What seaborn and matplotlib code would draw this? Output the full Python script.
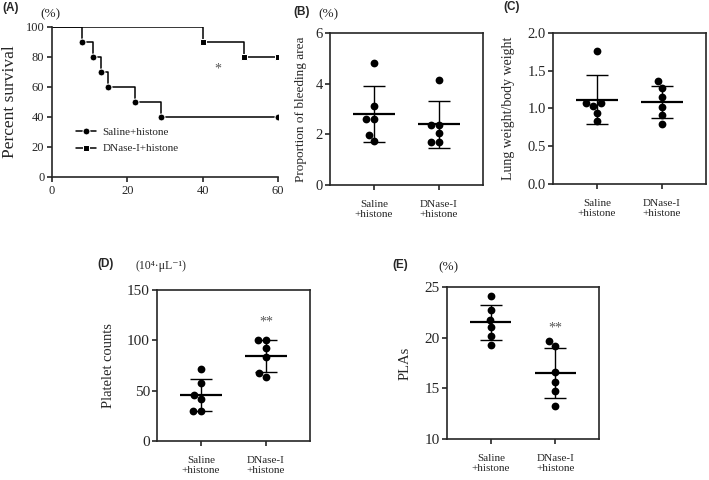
import numpy as np
import pandas as pd
import seaborn as sns
import matplotlib.pyplot as plt

# ---- data ----
groups = ["Saline\n+histone", "DNase-I\n+histone"]

# (A) survival curves
saline_days = [0, 8, 11, 13, 15, 22, 29, 60]
saline_surv = [100, 90, 80, 70, 60, 50, 40, 40]
dnase_days = [0, 40, 51, 60]
dnase_surv = [100, 90, 80, 80]

# (B) proportion of bleeding area (%)
bleed_saline = [4.82, 3.10, 2.60, 2.60, 1.99, 1.74]
bleed_dnase = [4.16, 2.37, 2.37, 2.05, 1.70, 1.70]

# (C) lung weight / body weight
lung_saline = [1.76, 1.07, 1.07, 1.03, 0.94, 0.83]
lung_dnase = [1.36, 1.27, 1.15, 1.02, 0.91, 0.80]

# (D) platelet counts
plt_saline = [71.0, 57.1, 45.5, 41.2, 30.2, 30.2]
plt_dnase = [100.6, 100.6, 91.9, 83.6, 67.7, 63.7]

# (E) PLAs (%)
pla_saline = [24.08, 22.76, 21.78, 21.02, 20.16, 19.28]
pla_dnase = [19.67, 19.18, 16.58, 15.63, 14.77, 13.29]

sns.set_style("ticks")
plt.rcParams['font.family'] = ['Liberation Serif', 'DejaVu Serif']
plt.rcParams['axes.linewidth'] = 1.2
plt.rcParams['xtick.major.width'] = 1.2
plt.rcParams['ytick.major.width'] = 1.2
plt.rcParams['xtick.major.size'] = 3.5
plt.rcParams['ytick.major.size'] = 3.5

fig = plt.figure(figsize=(7.09, 4.8), dpi=100)

panel_font = dict(family='Liberation Sans', weight='bold', fontsize=8.5)


def dot_panel(rect, a, b, ylim, yticks, ylabel, label_x, tick_fs, label_fs, fmt=None):
    ax = fig.add_axes(rect)
    df = pd.DataFrame({"group": [groups[0]] * len(a) + [groups[1]] * len(b),
                       "value": a + b})
    sns.swarmplot(data=df, x="group", y="value", order=groups, color="black",
                  size=5.6, ax=ax)
    stats = df.groupby("group", sort=False)["value"].agg(["mean", "std"])
    for i, g in enumerate(groups):
        m, s = stats.loc[g, "mean"], stats.loc[g, "std"]
        ax.hlines(m, i - 0.32, i + 0.32, color="black", lw=1.6, zorder=3)
        ax.vlines(i, m - s, m + s, color="black", lw=1.0, zorder=3)
        ax.hlines([m - s, m + s], i - 0.17, i + 0.17, color="black", lw=1.0, zorder=3)
    ax.set_xlim(-0.68, 1.68)
    ax.set_ylim(*ylim)
    ax.set_yticks(yticks)
    if fmt:
        ax.set_yticklabels([fmt.format(t) for t in yticks])
    ax.set_xlabel("")
    ax.set_ylabel(ylabel, fontsize=label_fs)
    ax.yaxis.set_label_coords(label_x, 0.5)
    ax.tick_params(axis="y", labelsize=tick_fs, pad=1.5)
    ax.tick_params(axis="x", labelsize=8, pad=7)
    for sp in ax.spines.values():
        sp.set_visible(True)
        sp.set_linewidth(1.2)
    return ax


# ---- (A) survival ----
axA = fig.add_axes([0.0733, 0.6313, 0.3188, 0.3125])
sns.lineplot(x=saline_days, y=saline_surv, drawstyle="steps-post", color="black",
             lw=1.1, marker="o", markersize=5, markevery=list(range(1, len(saline_days))),
             label="Saline+histone", ax=axA)
sns.lineplot(x=dnase_days, y=dnase_surv, drawstyle="steps-post", color="black",
             lw=1.1, marker="s", markersize=5, markevery=list(range(1, len(dnase_days))),
             label="DNase-I+histone", ax=axA)
axA.set_xlim(0, 60)
axA.set_ylim(0, 100)
axA.set_xticks([0, 20, 40, 60])
axA.set_yticks([0, 20, 40, 60, 80, 100])
axA.tick_params(labelsize=9, pad=2)
axA.set_ylabel("Percent survival", fontsize=12.5)
axA.yaxis.set_label_coords(-0.15, 0.5)
sns.despine(ax=axA)
axA.legend(loc="lower left", bbox_to_anchor=(0.08, 0.12), frameon=False, fontsize=8,
           handlelength=1.8, handletextpad=0.6, labelspacing=0.6, borderpad=0)
axA.text(44, 72, "*", ha="center", va="center", fontsize=10, color="#555555")
fig.text(2 / 709, 1 - 8 / 480, "(A)", va="center", **panel_font)
fig.text(40 / 709, 1 - 14 / 480, "(%)", va="center", fontsize=9.5)

# ---- (B) bleeding area ----
dot_panel([0.4654, 0.6146, 0.2158, 0.3167], bleed_saline, bleed_dnase, (0, 6),
          [0, 2, 4, 6], "Proportion of bleeding area", -0.15, 10.5, 9.5)
fig.text(293 / 709, 1 - 12 / 480, "(B)", va="center", **panel_font)
fig.text(318 / 709, 1 - 14 / 480, "(%)", va="center", fontsize=9.5)

# ---- (C) lung weight ----
dot_panel([0.780, 0.6167, 0.2158, 0.3146], lung_saline, lung_dnase, (0, 2),
          [0, 0.5, 1.0, 1.5, 2.0], "Lung weight/body weight", -0.25, 10.5, 10,
          fmt="{:.1f}")
fig.text(503 / 709, 1 - 7 / 480, "(C)", va="center", **panel_font)

# ---- (D) platelet counts ----
axD = dot_panel([0.2214, 0.0813, 0.2158, 0.3146], plt_saline, plt_dnase, (0, 150),
                [0, 50, 100, 150], "Platelet counts", -0.275, 11, 10.5)
axD.text(1, 118, "**", ha="center", va="center", fontsize=10, color="#555555")
fig.text(97 / 709, 1 - 264 / 480, "(D)", va="center", **panel_font)
fig.text(135 / 709, 1 - 266 / 480, "(10⁴·μL⁻¹)", va="center", fontsize=8.5,
         family=['Liberation Serif', 'DejaVu Serif'])

# ---- (E) PLAs ----
axE = dot_panel([0.6305, 0.0854, 0.2144, 0.3167], pla_saline, pla_dnase, (10, 25),
                [10, 15, 20, 25], "PLAs", -0.235, 11, 10.5)
axE.text(1, 20.9, "**", ha="center", va="center", fontsize=10, color="#555555")
fig.text(392 / 709, 1 - 265 / 480, "(E)", va="center", **panel_font)
fig.text(438 / 709, 1 - 267 / 480, "(%)", va="center", fontsize=9.5)

fig.savefig("out.png", dpi=100)
